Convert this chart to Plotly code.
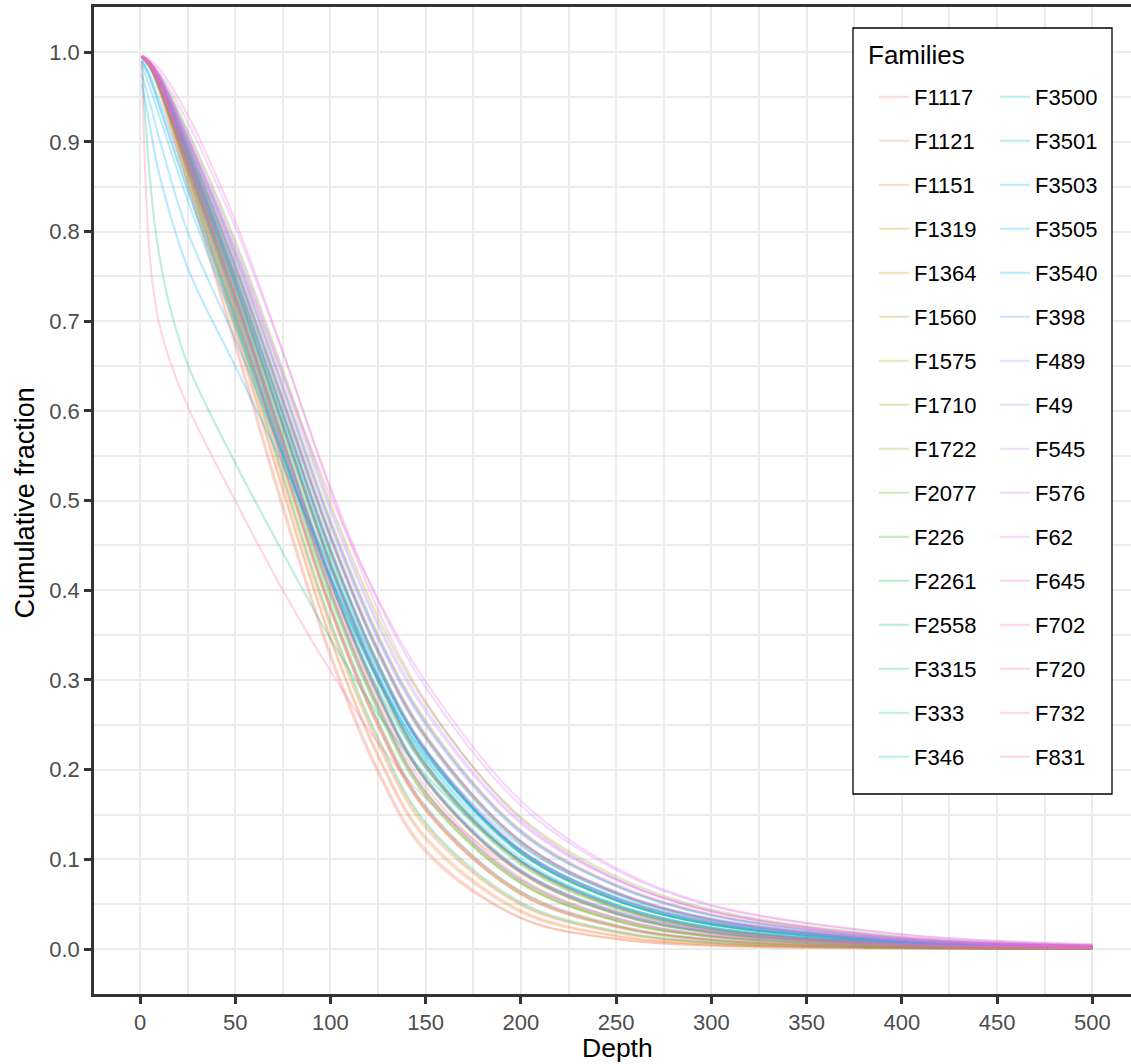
import plotly.graph_objects as go
import math

# ---------------- data ----------------
depths = [1, 5, 10, 25, 50, 75, 100, 125, 150, 200, 250, 300, 400, 500]
depths_fine = [1, 2.5, 5, 7.5, 10, 15, 25, 50, 75, 100, 125, 150, 200, 250, 300, 400, 500]

families = ["F1117", "F1121", "F1151", "F1319", "F1364", "F1560", "F1575", "F1710",
            "F1722", "F2077", "F226", "F2261", "F2558", "F3315", "F333", "F346",
            "F3500", "F3501", "F3503", "F3505", "F3540", "F398", "F489", "F49",
            "F545", "F576", "F62", "F645", "F702", "F720", "F732", "F831"]

# two curves per family: cumulative fraction at each depth
F1117_a = [0.995, 0.984, 0.957, 0.852, 0.672, 0.490, 0.325, 0.196, 0.108, 0.034, 0.011, 0.0037, 0.0007, 0.0002]
F1117_b = [0.995, 0.985, 0.961, 0.864, 0.697, 0.522, 0.358, 0.228, 0.135, 0.049, 0.018, 0.0068, 0.0014, 0.0003]
F1121_a = [0.995, 0.985, 0.960, 0.860, 0.688, 0.510, 0.345, 0.214, 0.122, 0.041, 0.014, 0.005, 0.001, 0.0002]
F1121_b = [0.995, 0.985, 0.959, 0.856, 0.678, 0.496, 0.330, 0.200, 0.111, 0.035, 0.0115, 0.0039, 0.0008, 0.0002]
F1151_a = [0.995, 0.986, 0.962, 0.864, 0.692, 0.514, 0.348, 0.217, 0.125, 0.043, 0.015, 0.0053, 0.0011, 0.0002]
F1151_b = [0.995, 0.986, 0.964, 0.872, 0.712, 0.542, 0.380, 0.250, 0.156, 0.062, 0.025, 0.010, 0.002, 0.0005]
F1319_a = [0.995, 0.985, 0.962, 0.866, 0.700, 0.526, 0.362, 0.232, 0.138, 0.050, 0.019, 0.007, 0.0014, 0.0003]
F1319_b = [0.995, 0.986, 0.966, 0.879, 0.726, 0.560, 0.399, 0.270, 0.174, 0.075, 0.032, 0.014, 0.003, 0.0008]
F1364_a = [0.995, 0.985, 0.963, 0.870, 0.708, 0.538, 0.377, 0.248, 0.155, 0.061, 0.025, 0.0098, 0.002, 0.0005]
F1364_b = [0.995, 0.987, 0.969, 0.889, 0.745, 0.587, 0.431, 0.302, 0.206, 0.097, 0.047, 0.022, 0.006, 0.0018]
F1560_a = [0.995, 0.986, 0.966, 0.880, 0.729, 0.567, 0.410, 0.283, 0.188, 0.086, 0.040, 0.019, 0.0047, 0.0014]
F1560_b = [0.995, 0.988, 0.972, 0.899, 0.765, 0.615, 0.463, 0.335, 0.239, 0.120, 0.063, 0.033, 0.0093, 0.0029]
F1575_a = [0.995, 0.988, 0.969, 0.890, 0.749, 0.595, 0.442, 0.315, 0.220, 0.108, 0.055, 0.028, 0.0078, 0.0024]
F1575_b = [0.995, 0.986, 0.965, 0.877, 0.722, 0.556, 0.396, 0.268, 0.172, 0.074, 0.032, 0.014, 0.003, 0.0008]
F1710_a = [0.995, 0.987, 0.968, 0.887, 0.742, 0.584, 0.428, 0.300, 0.204, 0.096, 0.046, 0.022, 0.006, 0.0018]
F1710_b = [0.996, 0.989, 0.974, 0.905, 0.777, 0.630, 0.479, 0.351, 0.255, 0.132, 0.071, 0.038, 0.0113, 0.0035]
F1722_a = [0.995, 0.988, 0.971, 0.897, 0.762, 0.612, 0.460, 0.332, 0.236, 0.118, 0.062, 0.032, 0.009, 0.0028]
F1722_b = [0.996, 0.990, 0.976, 0.913, 0.790, 0.646, 0.497, 0.370, 0.274, 0.147, 0.081, 0.044, 0.0138, 0.0042]
F2077_a = [0.995, 0.987, 0.967, 0.882, 0.732, 0.570, 0.412, 0.284, 0.188, 0.085, 0.039, 0.018, 0.0045, 0.0013]
F2077_b = [0.995, 0.988, 0.970, 0.892, 0.752, 0.598, 0.444, 0.316, 0.220, 0.107, 0.054, 0.027, 0.0075, 0.0023]
F226_a = [0.995, 0.986, 0.964, 0.875, 0.718, 0.551, 0.392, 0.265, 0.170, 0.073, 0.031, 0.0135, 0.0031, 0.0008]
F226_b = [0.995, 0.987, 0.967, 0.884, 0.738, 0.580, 0.425, 0.298, 0.202, 0.094, 0.045, 0.021, 0.0058, 0.0017]
F2261_a = [0.995, 0.987, 0.969, 0.894, 0.756, 0.602, 0.448, 0.319, 0.222, 0.108, 0.054, 0.027, 0.0076, 0.0023]
F2261_b = [0.995, 0.986, 0.965, 0.875, 0.716, 0.546, 0.384, 0.254, 0.159, 0.064, 0.026, 0.0105, 0.0022, 0.0006]
F2558_a = [0.995, 0.986, 0.966, 0.883, 0.735, 0.574, 0.416, 0.287, 0.190, 0.086, 0.039, 0.018, 0.0046, 0.0013]
F2558_b = [0.995, 0.985, 0.963, 0.868, 0.704, 0.530, 0.366, 0.236, 0.141, 0.052, 0.020, 0.0074, 0.0015, 0.0004]
F3315_a = [0.990, 0.935, 0.865, 0.812, 0.775, 0.722, 0.652, 0.542, 0.442, 0.346, 0.262, 0.194, 0.098, 0.049, 0.024, 0.006, 0.0018]
F3315_b = [0.995, 0.986, 0.966, 0.884, 0.740, 0.584, 0.430, 0.302, 0.206, 0.098, 0.048, 0.023, 0.0063, 0.0019]
F333_a = [0.995, 0.986, 0.965, 0.878, 0.724, 0.559, 0.400, 0.272, 0.176, 0.077, 0.034, 0.015, 0.0035, 0.001]
F333_b = [0.995, 0.988, 0.970, 0.895, 0.759, 0.608, 0.457, 0.329, 0.234, 0.117, 0.061, 0.032, 0.009, 0.0028]
F346_a = [0.995, 0.987, 0.968, 0.888, 0.744, 0.586, 0.431, 0.303, 0.207, 0.098, 0.047, 0.022, 0.006, 0.0018]
F346_b = [0.994, 0.983, 0.960, 0.872, 0.724, 0.566, 0.412, 0.286, 0.191, 0.088, 0.041, 0.019, 0.0049, 0.0015]
F3500_a = [0.992, 0.976, 0.948, 0.855, 0.706, 0.552, 0.408, 0.290, 0.202, 0.098, 0.049, 0.024, 0.0065, 0.002]
F3500_b = [0.995, 0.987, 0.968, 0.890, 0.750, 0.597, 0.445, 0.318, 0.222, 0.109, 0.055, 0.028, 0.0078, 0.0024]
F3501_a = [0.990, 0.972, 0.940, 0.845, 0.700, 0.552, 0.414, 0.298, 0.212, 0.106, 0.055, 0.028, 0.008, 0.0025]
F3501_b = [0.995, 0.986, 0.966, 0.886, 0.743, 0.588, 0.435, 0.307, 0.211, 0.101, 0.050, 0.024, 0.0067, 0.002]
F3503_a = [0.985, 0.962, 0.930, 0.835, 0.695, 0.550, 0.414, 0.301, 0.216, 0.110, 0.058, 0.030, 0.009, 0.003]
F3503_b = [0.996, 0.989, 0.973, 0.903, 0.774, 0.627, 0.476, 0.348, 0.252, 0.130, 0.070, 0.037, 0.011, 0.0034]
F3505_a = [0.975, 0.945, 0.905, 0.800, 0.680, 0.550, 0.415, 0.302, 0.216, 0.110, 0.057, 0.030, 0.009, 0.003]
F3505_b = [0.995, 0.986, 0.965, 0.879, 0.728, 0.566, 0.409, 0.282, 0.188, 0.087, 0.041, 0.019, 0.005, 0.0015]
F3540_a = [0.965, 0.920, 0.865, 0.760, 0.650, 0.540, 0.425, 0.312, 0.222, 0.110, 0.057, 0.029, 0.0085, 0.0026]
F3540_b = [0.995, 0.987, 0.968, 0.889, 0.748, 0.594, 0.441, 0.314, 0.219, 0.107, 0.054, 0.027, 0.0077, 0.0024]
F398_a = [0.990, 0.972, 0.942, 0.848, 0.705, 0.558, 0.420, 0.306, 0.221, 0.115, 0.062, 0.033, 0.010, 0.003]
F398_b = [0.995, 0.988, 0.971, 0.898, 0.764, 0.614, 0.462, 0.334, 0.238, 0.120, 0.063, 0.033, 0.0095, 0.003]
F489_a = [0.996, 0.989, 0.972, 0.901, 0.770, 0.622, 0.471, 0.344, 0.249, 0.129, 0.070, 0.038, 0.0115, 0.0036]
F489_b = [0.995, 0.987, 0.967, 0.886, 0.741, 0.583, 0.428, 0.301, 0.206, 0.098, 0.048, 0.023, 0.0065, 0.002]
F49_a = [0.996, 0.989, 0.975, 0.910, 0.786, 0.642, 0.492, 0.364, 0.268, 0.142, 0.078, 0.042, 0.013, 0.004]
F49_b = [0.995, 0.988, 0.969, 0.891, 0.751, 0.598, 0.446, 0.319, 0.224, 0.111, 0.057, 0.030, 0.0085, 0.0026]
F545_a = [0.996, 0.990, 0.978, 0.922, 0.805, 0.665, 0.515, 0.388, 0.292, 0.160, 0.088, 0.048, 0.016, 0.005]
F545_b = [0.995, 0.988, 0.970, 0.896, 0.760, 0.609, 0.458, 0.331, 0.236, 0.120, 0.064, 0.034, 0.0102, 0.0032]
F576_a = [0.996, 0.989, 0.974, 0.907, 0.781, 0.637, 0.488, 0.360, 0.264, 0.140, 0.077, 0.042, 0.013, 0.004]
F576_b = [0.995, 0.987, 0.966, 0.881, 0.731, 0.569, 0.412, 0.285, 0.190, 0.088, 0.042, 0.020, 0.0055, 0.0017]
F62_a = [0.996, 0.989, 0.973, 0.902, 0.772, 0.625, 0.474, 0.347, 0.252, 0.132, 0.072, 0.039, 0.0118, 0.0037]
F62_b = [0.995, 0.986, 0.965, 0.877, 0.722, 0.557, 0.398, 0.270, 0.175, 0.077, 0.034, 0.015, 0.0037, 0.0011]
F645_a = [0.996, 0.989, 0.974, 0.905, 0.780, 0.640, 0.505, 0.390, 0.298, 0.165, 0.090, 0.049, 0.0165, 0.0052]
F645_b = [0.995, 0.987, 0.968, 0.890, 0.750, 0.597, 0.444, 0.317, 0.222, 0.110, 0.057, 0.030, 0.0088, 0.0027]
F702_a = [0.995, 0.988, 0.971, 0.896, 0.761, 0.611, 0.459, 0.332, 0.237, 0.120, 0.063, 0.034, 0.010, 0.003]
F702_b = [0.995, 0.986, 0.964, 0.873, 0.714, 0.544, 0.382, 0.253, 0.158, 0.064, 0.027, 0.011, 0.0024, 0.0007]
F720_a = [0.997, 0.992, 0.982, 0.930, 0.812, 0.666, 0.512, 0.378, 0.276, 0.145, 0.078, 0.042, 0.012, 0.0035]
F720_b = [0.995, 0.987, 0.967, 0.885, 0.740, 0.582, 0.427, 0.299, 0.204, 0.097, 0.047, 0.022, 0.0062, 0.0019]
F732_a = [0.990, 0.880, 0.775, 0.728, 0.698, 0.660, 0.605, 0.500, 0.400, 0.310, 0.230, 0.168, 0.086, 0.042, 0.020, 0.005, 0.0015]
F732_b = [0.995, 0.986, 0.966, 0.881, 0.730, 0.568, 0.410, 0.282, 0.187, 0.085, 0.039, 0.018, 0.0046, 0.0014]
F831_a = [0.995, 0.985, 0.963, 0.871, 0.710, 0.540, 0.378, 0.248, 0.154, 0.061, 0.024, 0.0095, 0.002, 0.0005]
F831_b = [0.995, 0.986, 0.965, 0.879, 0.727, 0.563, 0.404, 0.276, 0.181, 0.079, 0.035, 0.016, 0.0041, 0.0012]

curves = {
    "F1117": [F1117_a, F1117_b], "F1121": [F1121_a, F1121_b], "F1151": [F1151_a, F1151_b],
    "F1319": [F1319_a, F1319_b], "F1364": [F1364_a, F1364_b], "F1560": [F1560_a, F1560_b],
    "F1575": [F1575_a, F1575_b], "F1710": [F1710_a, F1710_b], "F1722": [F1722_a, F1722_b],
    "F2077": [F2077_a, F2077_b], "F226": [F226_a, F226_b], "F2261": [F2261_a, F2261_b],
    "F2558": [F2558_a, F2558_b], "F3315": [F3315_a, F3315_b], "F333": [F333_a, F333_b],
    "F346": [F346_a, F346_b], "F3500": [F3500_a, F3500_b], "F3501": [F3501_a, F3501_b],
    "F3503": [F3503_a, F3503_b], "F3505": [F3505_a, F3505_b], "F3540": [F3540_a, F3540_b],
    "F398": [F398_a, F398_b], "F489": [F489_a, F489_b], "F49": [F49_a, F49_b],
    "F545": [F545_a, F545_b], "F576": [F576_a, F576_b], "F62": [F62_a, F62_b],
    "F645": [F645_a, F645_b], "F702": [F702_a, F702_b], "F720": [F720_a, F720_b],
    "F732": [F732_a, F732_b], "F831": [F831_a, F831_b],
}

x_ticks = [0, 50, 100, 150, 200, 250, 300, 350, 400, 450, 500]
x_minor = [25, 75, 125, 175, 225, 275, 325, 375, 425, 475]
y_ticks = [0.0, 0.1, 0.2, 0.3, 0.4, 0.5, 0.6, 0.7, 0.8, 0.9, 1.0]
y_minor = [0.05, 0.15, 0.25, 0.35, 0.45, 0.55, 0.65, 0.75, 0.85, 0.95]


# ---------------- ggplot hue palette ----------------
def hcl_rgb(h, c=100.0, l=65.0):
    Xn, Yn, Zn = 95.047, 100.0, 108.883
    hr = math.radians(h)
    u = c * math.cos(hr)
    v = c * math.sin(hr)
    Y = Yn * ((l + 16) / 116) ** 3 if l > 8 else Yn * l / 903.3
    un = 4 * Xn / (Xn + 15 * Yn + 3 * Zn)
    vn = 9 * Yn / (Xn + 15 * Yn + 3 * Zn)
    up = u / (13 * l) + un
    vp = v / (13 * l) + vn
    X = Y * 9 * up / (4 * vp)
    Z = Y * (12 - 3 * up - 20 * vp) / (4 * vp)
    X, Y, Z = X / 100, Y / 100, Z / 100
    r = 3.240479 * X - 1.537150 * Y - 0.498535 * Z
    g = -0.969256 * X + 1.875992 * Y + 0.041556 * Z
    b = 0.055648 * X - 0.204043 * Y + 1.057311 * Z

    def gam(t):
        t = 12.92 * t if t <= 0.0031308 else 1.055 * t ** (1 / 2.4) - 0.055
        return int(round(min(max(t, 0), 1) * 255))
    return gam(r), gam(g), gam(b)


n = len(families)
hues = [15 + i * 360.0 / n for i in range(n)]
ALPHA = 0.27

# ---------------- geometry ----------------
W, H = 1131, 1064
ML, MR, MT, MB = 94, 0, 7, 70
PW = W - ML - MR
PH = H - MT - MB


def px_x(px):
    return (px - ML) / PW


def px_y(py):
    return (H - MB - py) / PH


FONT = "Liberation Sans, Arial, Helvetica, sans-serif"

fig = go.Figure()
for i, fam in enumerate(families):
    r, g, b = hcl_rgb(hues[i])
    col = f"rgba({r},{g},{b},{ALPHA})"
    for k, vals in enumerate(curves[fam]):
        xs = depths_fine if len(vals) == len(depths_fine) else depths
        fig.add_trace(go.Scatter(
            x=xs, y=vals, mode="lines", name=fam,
            line=dict(color=col, width=2.1, shape="spline", smoothing=1.0),
            legend="legend" if i < n // 2 else "legend2",
            legendgroup=fam, showlegend=(k == 0),
            hoverinfo="skip",
        ))

leg_common = dict(
    bgcolor="rgba(0,0,0,0)", borderwidth=0, orientation="v",
    font=dict(family=FONT, size=22, color="#000000"),
    tracegroupgap=12.4, traceorder="grouped",
    xanchor="left", yanchor="top",
)

fig.update_layout(
    width=W, height=H,
    margin=dict(l=ML, r=MR, t=MT, b=MB, pad=0),
    paper_bgcolor="white", plot_bgcolor="white",
    font=dict(family=FONT, color="#4D4D4D"),
    showlegend=True,
    legend=dict(x=px_x(874), y=px_y(76), **leg_common),
    legend2=dict(x=px_x(995), y=px_y(76), **leg_common),
    xaxis=dict(
        range=[(ML - 140) / 1.9046, (W - 140) / 1.9046],
        tickmode="array", tickvals=x_ticks,
        ticks="outside", ticklen=7, tickwidth=2.5, tickcolor="#333333",
        tickfont=dict(family=FONT, size=22, color="#4D4D4D"),
        showline=True, linewidth=2.5, linecolor="#333333", mirror=True,
        showgrid=True, gridcolor="#EBEBEB", gridwidth=2.2,
        minor=dict(tickmode="array", tickvals=x_minor,
                   showgrid=True, gridcolor="#EBEBEB", gridwidth=1.5, ticks=""),
        zeroline=False,
    ),
    yaxis=dict(
        range=[(949 - (H - MB)) / 896.7, (949 - MT) / 896.7],
        tickmode="array", tickvals=y_ticks, tickformat=".1f",
        ticks="outside", ticklen=7, tickwidth=2.5, tickcolor="#333333",
        tickfont=dict(family=FONT, size=22, color="#4D4D4D"),
        showline=True, linewidth=2.5, linecolor="#333333", mirror=False,
        showgrid=True, gridcolor="#EBEBEB", gridwidth=2.2,
        minor=dict(tickmode="array", tickvals=y_minor,
                   showgrid=True, gridcolor="#EBEBEB", gridwidth=1.5, ticks=""),
        zeroline=False,
    ),
    shapes=[dict(type="rect", xref="paper", yref="paper",
                 x0=px_x(853), x1=px_x(1112), y0=px_y(794), y1=px_y(28),
                 line=dict(color="#000000", width=1.3), fillcolor="white", layer="above")],
    annotations=[
        dict(text="Families", xref="paper", yref="paper", x=px_x(866), y=px_y(55),
             xanchor="left", yanchor="middle", showarrow=False,
             font=dict(family=FONT, size=26, color="#000000")),
        dict(text="Depth", xref="paper", yref="paper", x=px_x(617.7), y=px_y(1047.5),
             xanchor="center", yanchor="middle", showarrow=False,
             font=dict(family=FONT, size=26.5, color="#000000")),
        dict(text="Cumulative fraction", xref="paper", yref="paper", x=px_x(25), y=px_y(503.4),
             xanchor="center", yanchor="middle", showarrow=False, textangle=-90,
             font=dict(family=FONT, size=27, color="#000000")),
    ],
)

fig.write_html("out.html", config={"displayModeBar": False},
               post_script="document.body.style.margin='0px';")
